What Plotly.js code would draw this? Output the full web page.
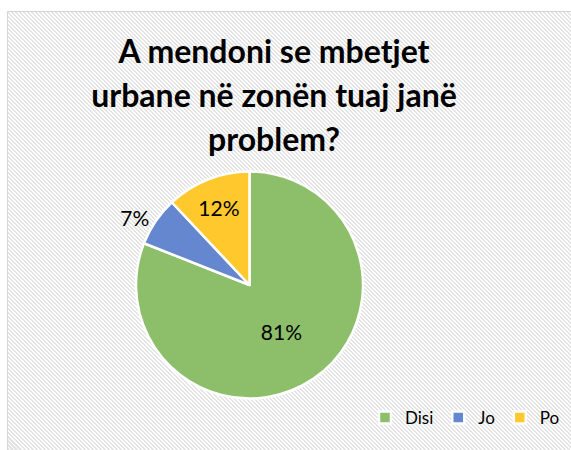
<!DOCTYPE html>
<html>
<head>
<meta charset="utf-8">
<script src="https://cdn.plot.ly/plotly-3.0.1.min.js"></script>
<style>
  html, body { margin: 0; padding: 0; background: #ffffff; }
  #wrap { position: relative; width: 571px; height: 450px; overflow: hidden; background: #ffffff; }
  #frame {
    position: absolute; left: 7px; top: 11px; width: 580px; height: 460px;
    border-left: 1.5px solid #d6d6d6; border-top: 1.5px solid #d6d6d6;
    background: repeating-linear-gradient(45deg, #ffffff 0px, #ffffff 1.4px, #e3e3e3 1.4px, #e3e3e3 2.83px);
  }
  #chart { position: absolute; left: 0; top: 0; width: 571px; height: 450px; }
</style>
</head>
<body>
<div id="wrap">
  <div id="frame"></div>
  <div id="chart"></div>
</div>
<script>
const categories = ["Disi", "Jo", "Po"];
const values = [81, 7, 12];
const sliceColors = ["#8dbf6b", "#6587cf", "#ffc92e"];
const titleLines = ["A mendoni se mbetjet", "urbane në zonën tuaj janë", "problem?"];

const trace = {
  type: "pie",
  labels: categories,
  values: values,
  sort: false,
  direction: "clockwise",
  rotation: 0,
  marker: { colors: sliceColors, line: { color: "#ffffff", width: 2.5 } },
  textinfo: "percent",
  texttemplate: "%{percent:.0%}",
  textposition: ["inside", "outside", "inside"],
  insidetextorientation: "horizontal",
  textfont: { family: "Lato, 'Open Sans', sans-serif", size: 21, color: "#000000" },
  outsidetextfont: { family: "Lato, 'Open Sans', sans-serif", size: 21, color: "#000000" },
  domain: { x: [136/571, 363/571], y: [51.5/450, 278.5/450] },
  hoverinfo: "label+percent"
};

const layout = {
  width: 571,
  height: 450,
  margin: { l: 0, r: 0, t: 0, b: 0, autoexpand: false },
  paper_bgcolor: "rgba(0,0,0,0)",
  plot_bgcolor: "rgba(0,0,0,0)",
  title: {
    text: titleLines.map(s => '<span style="font-size:32px">' + s + '</span>').join("<br>"),
    x: 274/571,
    xanchor: "center",
    y: 1 - 63/450,
    yanchor: "top",
    font: { family: "Lato, 'Open Sans', sans-serif", size: 34, color: "#000000", weight: "bold" }
  },
  showlegend: true,
  legend: {
    orientation: "h",
    x: 365/571,
    xanchor: "left",
    y: 32/450,
    yanchor: "middle",
    bgcolor: "rgba(0,0,0,0)",
    font: { family: "Lato, 'Open Sans', sans-serif", size: 17, color: "#000000" },
    traceorder: "normal",
    itemwidth: 30
  }
};

Plotly.newPlot("chart", [trace], layout, { displayModeBar: false, staticPlot: true });
</script>
</body>
</html>
